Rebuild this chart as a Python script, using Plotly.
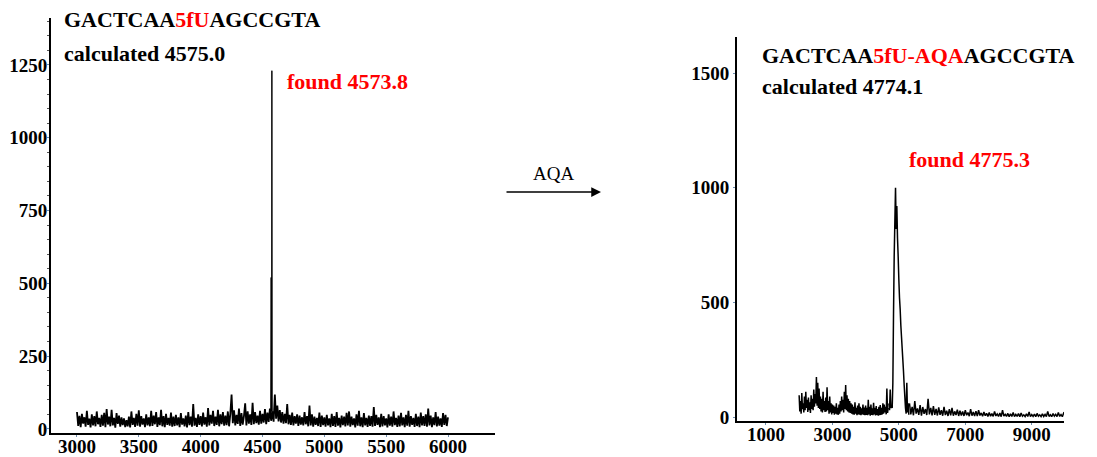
import numpy as np
import plotly.graph_objects as go

# ---------------- data ----------------
# Left spectrum: noise on a 10-unit grid, 3000..6000
left_noise_x = np.arange(3000, 6001, 10)
left_noise_y = [
    58, 10, 45, 6, 52, 18, 40, 8, 62, 14, 35, 5, 50, 12, 44, 9, 60, 16, 38, 7,
    48, 11, 55, 6, 68, 15, 42, 9, 66, 12, 38, 4, 54, 17, 46, 8, 40, 13, 36, 6,
    30, 9, 42, 5, 60, 14, 38, 7, 52, 11, 64, 8, 44, 15, 36, 6, 50, 12, 40, 9,
    62, 10, 46, 16, 58, 7, 40, 13, 66, 9, 44, 6, 52, 14, 38, 11, 56, 8, 42, 10,
    48, 12, 40, 6, 54, 15, 36, 9, 46, 5, 58, 13, 42, 8, 85, 11, 38, 7, 50, 14,
    44, 9, 56, 15, 40, 8, 72, 12, 48, 18, 62, 10, 42, 14, 66, 9, 50, 16, 58, 11,
    46, 13, 60, 9, 52, 118, 20, 64, 12, 48, 17, 70, 10, 54, 15, 44, 88, 12, 60, 18,
    50, 14, 90, 16, 58, 20, 46, 15, 62, 18, 52, 22, 68, 16, 56, 24, 70, 28, 60, 25,
    118, 35, 80, 26, 65, 22, 58, 18, 52, 20, 85, 16, 48, 14, 56, 12, 44, 18, 50, 10,
    46, 15, 40, 12, 58, 16, 44, 9, 80, 12, 50, 8, 42, 14, 38, 10, 56, 7, 46, 13,
    40, 8, 48, 12, 36, 6, 52, 10, 44, 7, 58, 11, 38, 5, 46, 13, 42, 9, 55, 12,
    60, 8, 42, 13, 36, 5, 50, 11, 62, 9, 40, 6, 54, 12, 38, 7, 46, 10, 44, 8,
    75, 10, 48, 14, 40, 6, 52, 9, 44, 12, 36, 5, 50, 11, 42, 8, 60, 13, 38, 7,
    46, 9, 55, 12, 40, 6, 48, 11, 62, 8, 44, 14, 38, 7, 52, 10, 42, 6, 56, 12,
    44, 10, 50, 8, 70, 12, 46, 6, 40, 13, 58, 9, 42, 11, 36, 7, 54, 14, 48, 10,
    40,
]
left_peak_x = [4566, 4570, 4573, 4576, 4579, 4582]
left_peak_y = [35, 520, 60, 1230, 45, 40]

# Right spectrum
right_a_x = np.arange(2000, 4700, 20)
right_a_y = [
    95, 25, 70, 15, 105, 35, 60, 20, 90, 30, 110, 40, 75, 22, 85, 30, 65, 18, 95, 35,
    80, 30, 120, 45, 100, 60, 175, 50, 150, 40, 125, 35, 90, 25, 80, 20, 110, 30, 70, 22,
    85, 25, 130, 30, 70, 15, 90, 20, 60, 12, 55, 18, 50, 10, 45, 15, 60, 12, 40, 10,
    55, 15, 70, 25, 90, 30, 75, 20, 110, 35, 140, 30, 95, 25, 80, 20, 70, 18, 60, 15,
    55, 12, 45, 10, 65, 15, 40, 8, 50, 12, 60, 10, 45, 8, 38, 12, 55, 10, 42, 8,
    50, 10, 40, 8, 75, 12, 45, 6, 55, 10, 38, 8, 62, 12, 40, 7, 48, 10, 35, 6,
    45, 8, 52, 10, 40, 12, 60, 15, 55, 20, 45, 12, 125, 18, 40,
]
right_peak_x = np.arange(4700, 5301, 20)
right_peak_y = [
    60, 30, 120, 40, 50, 40, 150, 450, 700, 850,
    1000, 820, 920, 780, 700, 600, 520, 470, 400, 350,
    300, 250, 200, 140, 90, 40, 15, 150, 20, 60, 10,
]
right_tail_x = np.arange(5320, 10001, 40)
right_tail_y = [
    60, 12, 45, 8, 70, 15, 38, 10, 52, 6, 44, 14, 35, 9, 80, 12, 40, 8, 48, 10,
    36, 7, 42, 10, 30, 6, 45, 9, 28, 5, 35, 8, 40, 6, 25, 9, 32, 5, 28, 7,
    24, 5, 30, 8, 20, 4, 35, 6, 22, 5, 26, 4, 30, 7, 18, 4, 22, 6, 16, 3,
    20, 4, 15, 3, 25, 5, 14, 3, 18, 2, 30, 4, 12, 3, 16, 2, 14, 3, 20, 2,
    12, 3, 15, 2, 18, 4, 10, 2, 14, 3, 22, 2, 11, 3, 13, 2, 16, 4, 10, 2,
    14, 3, 12, 2, 25, 3, 10, 2, 15, 4, 12, 2, 20, 3, 11, 2, 18, 14,
]

left_xticks = [3000, 3500, 4000, 4500, 5000, 5500, 6000]
left_yticks = [0, 250, 500, 750, 1000, 1250]
right_xticks = [1000, 3000, 5000, 7000, 9000]
right_yticks = [0, 500, 1000, 1500]

# ---------------- figure ----------------
# page body has an 8px margin, so the figure is drawn 8px in from the window edge
OFF = 8
W, H = 1097 - OFF, 457 - OFF
FONT = "Liberation Serif"

def px(x):
    return (x - OFF) / W

def py(y):
    return 1 - (y - OFF) / H

left_noise_line = dict(color="black", width=1.8, simplify=False)
right_line = dict(color="black", width=1.5, simplify=False)
peak_line = dict(color="black", width=1, simplify=False)
fig = go.Figure()
fig.add_trace(go.Scatter(x=left_noise_x, y=left_noise_y, mode="lines", line=left_noise_line,
                         xaxis="x", yaxis="y", showlegend=False, hoverinfo="skip"))
fig.add_trace(go.Scatter(x=left_peak_x, y=left_peak_y, mode="lines", line=peak_line,
                         xaxis="x", yaxis="y", showlegend=False, hoverinfo="skip"))
for xs, ys in [(right_a_x, right_a_y), (right_peak_x, right_peak_y), (right_tail_x, right_tail_y)]:
    fig.add_trace(go.Scatter(x=xs, y=ys, mode="lines", line=right_line,
                             xaxis="x2", yaxis="y2", showlegend=False, hoverinfo="skip"))

tickfont = dict(family=FONT, size=19, color="black", weight="bold")
ax_common = dict(showgrid=False, zeroline=False, showline=True, linecolor="black",
                 linewidth=2, ticks="outside", ticklen=2, tickcolor="#6f8fb0",
                 tickfont=tickfont, fixedrange=True, automargin=False)

fig.update_layout(
    width=W, height=H,
    margin=dict(l=0, r=0, t=0, b=0),
    paper_bgcolor="white", plot_bgcolor="white",
    xaxis=dict(domain=[px(51), px(495)], range=[2790, 6380], anchor="y",
               tickvals=left_xticks, ticklabelstandoff=-7, **ax_common),
    yaxis=dict(domain=[py(433), py(18)], range=[-14, 1411], anchor="x",
               tickvals=left_yticks, ticklabelstandoff=-4,
               minor=dict(ticks="outside", ticklen=2, dtick=50, tickcolor="#555"),
               **ax_common),
    xaxis2=dict(domain=[px(737), px(1064)], range=[130, 9970], anchor="y2",
                tickvals=right_xticks, ticklabelstandoff=-7, **ax_common),
    yaxis2=dict(domain=[py(421), py(37)], range=[-17, 1657], anchor="x2",
                tickvals=right_yticks, **ax_common),
)

def txt(x, y, text, size=22, bold=True):
    fig.add_annotation(xref="paper", yref="paper", x=px(x), y=py(y), text=text,
                       showarrow=False, xanchor="left", yanchor="middle",
                       font=dict(family=FONT, size=size, color="black",
                                 weight="bold" if bold else "normal"))

RED = "#ff0000"
txt(62, 19, f"GACTCAA<span style='color:{RED}'>5fU</span>AGCCGTA")
txt(62, 53, "calculated 4575.0")
txt(285, 82, f"<span style='color:{RED}'>found 4573.8</span>")
txt(760, 55, f"GACTCAA<span style='color:{RED}'>5fU-AQA</span>AGCCGTA")
txt(760, 86, "calculated 4774.1")
txt(907, 159, f"<span style='color:{RED}'>found 4775.3</span>")

# reaction arrow
fig.add_annotation(xref="paper", yref="paper", x=px(601), y=py(192), ax=-96, ay=0,
                   text="", showarrow=True, arrowhead=2, arrowsize=1.3,
                   arrowwidth=1.5, arrowcolor="black")
fig.add_annotation(xref="paper", yref="paper", x=px(553), y=py(173), text="AQA",
                   showarrow=False, xanchor="center", yanchor="middle",
                   font=dict(family=FONT, size=19, color="black"))

fig.write_html("out.html")
